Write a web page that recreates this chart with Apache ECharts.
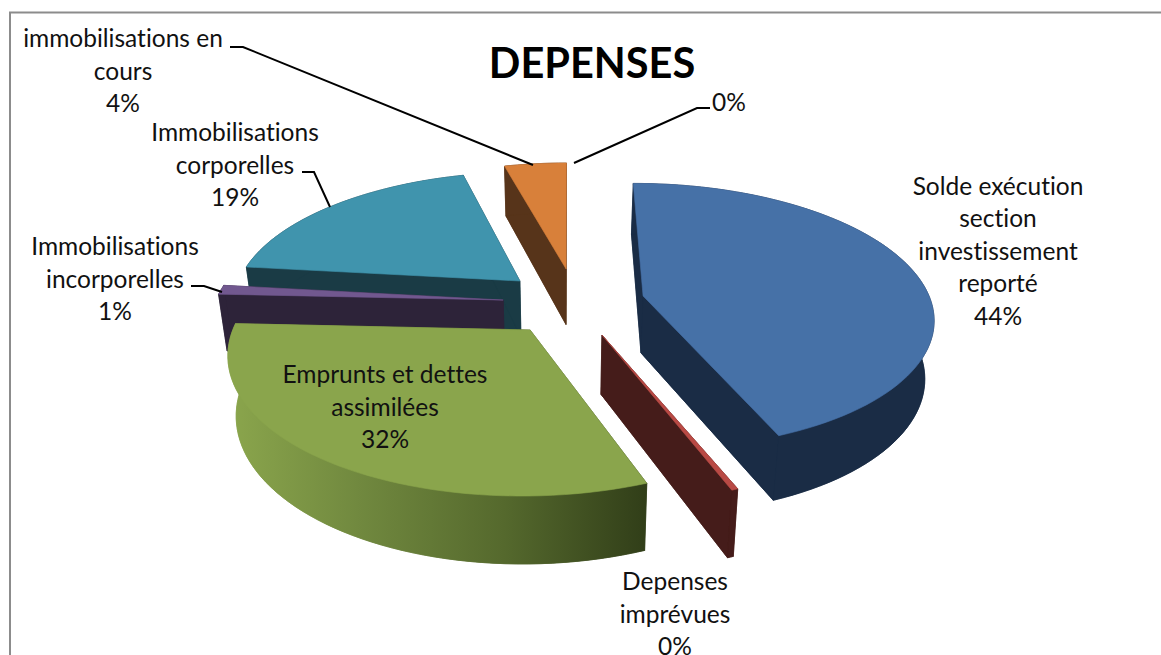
<!DOCTYPE html>
<html><head><meta charset="utf-8">
<style>html,body{margin:0;padding:0;background:#fff}#c{width:1161px;height:655px}#c text{font-variant-ligatures:none !important;font-feature-settings:"liga" 0,"clig" 0 !important}</style>
<script src="https://cdn.jsdelivr.net/npm/echarts@6/dist/echarts.min.js"></script>
</head><body><div id="c"></div>
<script>
// --- data ---
const categories = ['Solde exécution section investissement reporté','Depenses imprévues','Emprunts et dettes assimilées','Immobilisations incorporelles','Immobilisations corporelles','immobilisations en cours',''];
const values = [43.9, 0.3, 31.5, 1.1, 19.0, 4.1, 0];
const percentLabels = ['44%','0%','32%','1%','19%','4%','0%'];
const titleText = 'DEPENSES';

// --- style and layout ---
const explodeU = [0.238, 0.09, -0.151, -0.25, -0.196, -0.032, 0];
const explodeV = [-0.046, 0.242, 0.206, -0.015, -0.164, -0.261, 0];
const topColors = ['#4671a7','#b94a45','#8aa54c','#71588f','#4094ad','#d8803a','#d8803a'];
const wallColors = ['#1a2c45','#451c1a',null,'#2d2339','#1a3b45','#57341a','#57341a'];
const drawDepth = [6,4,5,3,2,1,0];
const startAngle = -0.2;
const view = {cx:575, cy:302, rx:288, ry:131.4, k:0.152};
const labelLayout = [
  {x:998,y:250,lines:['Solde exécution','section','investissement','reporté']},
  {x:675,y:613,lines:['Depenses','imprévues']},
  {x:385,y:406,lines:['Emprunts et dettes','assimilées']},
  {x:115,y:278,lines:['Immobilisations','incorporelles']},
  {x:235,y:164,lines:['Immobilisations','corporelles']},
  {x:123,y:70,lines:['immobilisations en','cours']},
  {x:729,y:101,lines:[]}
];
const leaders = [
  [[230,47],[243,47],[533,165]],
  [[574,163],[697,108],[710,108]],
  [[302,172],[314,172],[330,207]],
  [[191,286],[204,286],[222,292]]
];
const greenWall = {type:'linear',x:232,y:0,x2:650,y2:0,global:true,colorStops:[
  {offset:0,color:'#8aa54c'},{offset:0.3,color:'#71893f'},{offset:0.65,color:'#55692d'},{offset:1,color:'#303d18'}]};

const total = values.reduce((a,b)=>a+b,0);
const rad = d => d*Math.PI/180;
function project(u,v){
  const s = 1/(1-view.k*v);
  return [view.cx+view.rx*u*s, view.cy+view.ry*v*s];
}
function lower(p){
  const depth = 50+(p[1]-170)*0.055;
  return [p[0]-(p[0]-560)*0.025, p[1]+depth];
}
const spans = []; let acc = startAngle;
values.forEach(v=>{const a=v/total*360; spans.push([acc,acc+a]); acc+=a;});

function renderSlice(params, api){
  const i = params.dataIndex;
  if (api.value(0) <= 0.2) return {type:'group',children:[]};
  const [a0,a1] = spans[i];
  const ou = explodeU[i], ov = explodeV[i];
  const apex = project(ou,ov);
  const arc = [];
  const n = Math.max(2,Math.ceil((a1-a0)/2));
  for(let j=0;j<=n;j++){
    const t = rad(a0+(a1-a0)*j/n);
    arc.push(project(ou+Math.sin(t), ov-Math.cos(t)));
  }
  const lowArc = arc.map(lower), lowApex = lower(apex);
  const wall = wallColors[i] || greenWall;
  const poly = (pts,fill)=>({type:'polygon',shape:{points:pts},style:{fill:fill,stroke:fill,lineWidth:0.6},z2:drawDepth[i]*10});
  return {type:'group',children:[
    poly([lowApex].concat(lowArc),wall),
    poly([apex,arc[0],lowArc[0],lowApex],wall),
    poly([apex,arc[n],lowArc[n],lowApex],wall),
    poly(arc.concat(lowArc.slice().reverse()),wall),
    Object.assign(poly([apex].concat(arc),topColors[i]),{z2:drawDepth[i]*10+1})
  ]};
}

const font = 'Lato, Carlito, sans-serif';
const texts = labelLayout.map((l,i)=>({
  type:'text',z:10,x:l.x,y:l.y,
  style:{text:l.lines.concat([percentLabels[i]]).join('\n'),font:'24.5px '+font,lineHeight:32.5,fill:'#111',align:'center',verticalAlign:'middle'}
}));
const leaderLines = leaders.map(p=>({type:'polyline',z:9,shape:{points:p},style:{stroke:'#000',lineWidth:2,fill:null}}));
const frame = {type:'polyline',z:0,shape:{points:[[10,655],[10,12.5],[1161,12.5]]},style:{stroke:'#8c8c8c',lineWidth:2,fill:null}};

const chart = echarts.init(document.getElementById('c'),null,{renderer:'svg'});
chart.setOption({
  animation:false,
  backgroundColor:'#fff',
  title:{text:titleText,left:587,top:36,textAlign:'center',textStyle:{fontFamily:font,fontWeight:'bold',fontSize:41.5,color:'#000'}},
  tooltip:{show:false},
  graphic:[frame].concat(leaderLines,texts),
  series:[{type:'custom',coordinateSystem:'none',silent:true,
    renderItem:renderSlice,
    data:values.map((v,i)=>({name:categories[i],value:[v]}))}]
});
</script></body></html>
